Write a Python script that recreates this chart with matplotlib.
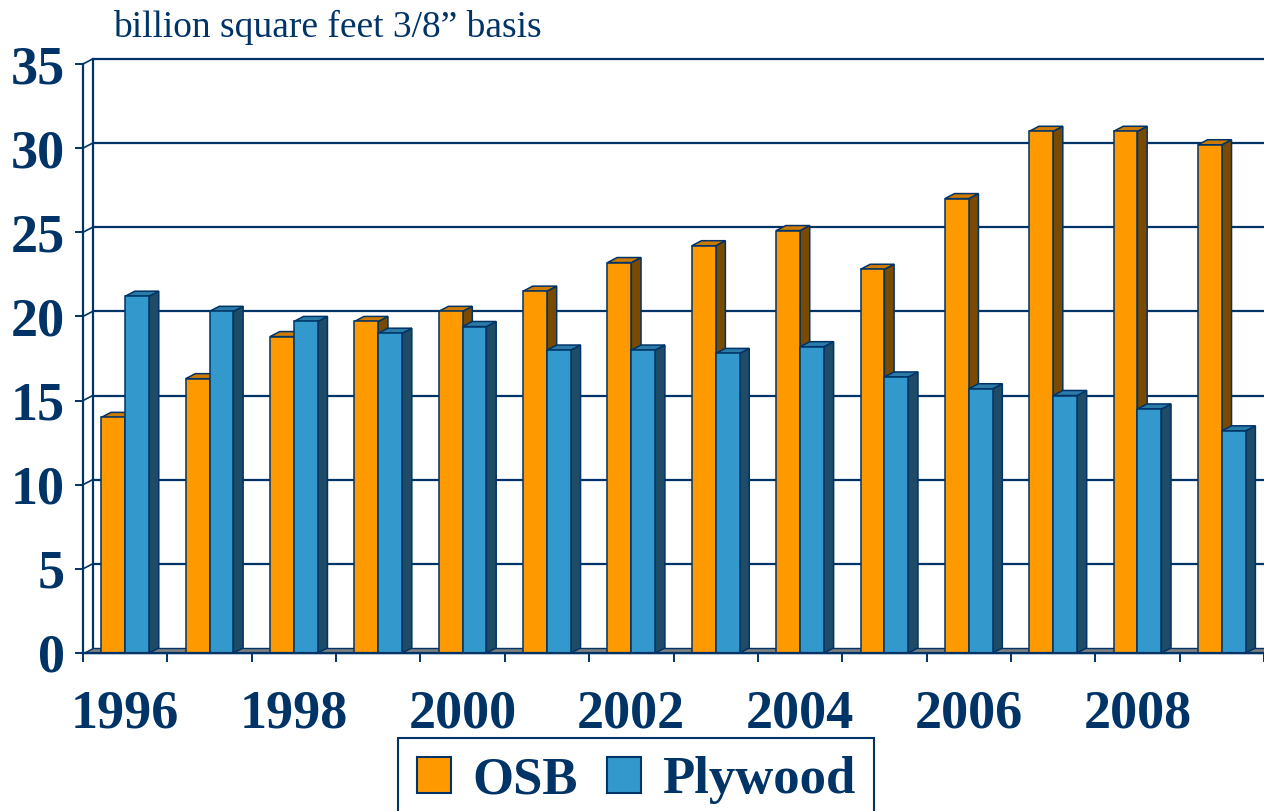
import numpy as np
import matplotlib
matplotlib.use("Agg")
import matplotlib.pyplot as plt
from matplotlib.patches import Polygon, Patch

# data
years = list(range(1996, 2010))
osb = [14.0, 16.3, 18.8, 19.7, 20.3, 21.5, 23.2, 24.2, 25.1, 22.8, 27.0, 31.0, 31.0, 30.2]
plywood = [21.2, 20.3, 19.7, 19.0, 19.4, 18.0, 18.0, 17.8, 18.2, 16.4, 15.7, 15.3, 14.5, 13.2]
year_labels = [str(y) if y % 2 == 0 else "" for y in years]
y_ticks = [0, 5, 10, 15, 20, 25, 30, 35]

navy = "#003366"
# name, values, front, top, side
series = [
    ("OSB", osb, "#FF9900", "#CC7A00", "#7A4A00"),
    ("Plywood", plywood, "#3399CC", "#2B7BA8", "#1E4B66"),
]

plt.rcParams["font.family"] = ["Liberation Serif", "DejaVu Serif"]

fig = plt.figure(figsize=(12.64, 8.11), dpi=100)
ax = fig.add_axes([83 / 1264, 158 / 811, 1181 / 1264, 589 / 811])
n = len(years)
x = np.arange(n)
ax.set_xlim(-0.5, n - 0.5)
ax.set_ylim(0, 35)

# fake 3d depth, in data units
dx, dy = 0.115, 0.3
bw = 0.283
x0, x_end = -0.5, n + 0.5

# back wall + left wall
for t in y_ticks[1:]:
    ax.plot([x0 + dx, x_end], [t + dy, t + dy], color=navy, lw=1.6, clip_on=False, zorder=1)
    ax.plot([x0, x0 + dx], [t, t + dy], color=navy, lw=1.2, clip_on=False, zorder=1)
ax.plot([x0 + dx, x0 + dx], [dy, 35 + dy], color=navy, lw=1.6, clip_on=False, zorder=1)

# floor
floor = Polygon([(x0, 0), (x_end, 0), (x_end, dy), (x0 + dx, dy)], closed=True,
                facecolor="#808080", edgecolor=navy, lw=1.0, clip_on=False, zorder=1.5)
ax.add_patch(floor)

# bars
for i, (name, vals, c_front, c_top, c_side) in enumerate(series):
    off = (i - 0.5) * bw
    z = 3 + 2 * i
    for xi, v in zip(x, vals):
        left = xi + off - bw / 2
        right = left + bw
        top = Polygon([(left, v), (right, v), (right + dx, v + dy), (left + dx, v + dy)],
                      closed=True, facecolor=c_top, edgecolor=navy, lw=1.1,
                      clip_on=False, zorder=z)
        side = Polygon([(right, 0), (right + dx, dy), (right + dx, v + dy), (right, v)],
                       closed=True, facecolor=c_side, edgecolor=navy, lw=1.1,
                       clip_on=False, zorder=z)
        ax.add_patch(side)
        ax.add_patch(top)
    ax.bar(x + off, vals, width=bw, color=c_front, edgecolor=navy, lw=1.1,
           zorder=z + 1, clip_on=False)

# axes styling
for s in ["top", "right"]:
    ax.spines[s].set_visible(False)
for s in ["left", "bottom"]:
    ax.spines[s].set_color(navy)
    ax.spines[s].set_linewidth(1.6)
    ax.spines[s].set_zorder(10)

ax.set_yticks(y_ticks)
ax.tick_params(axis="y", direction="out", length=6, width=1.4, color=navy, pad=7,
               labelsize=39, labelcolor=navy)
for lab in ax.get_yticklabels():
    lab.set_fontweight("bold")

ax.set_xticks(np.arange(-0.5, n, 1))
ax.set_xticklabels([])
ax.tick_params(axis="x", which="major", direction="out", length=6.5, width=1.4, color=navy)
ax.set_xticks(x, minor=True)
ax.set_xticklabels(year_labels, minor=True)
ax.tick_params(axis="x", which="minor", length=0, pad=26, labelsize=39, labelcolor=navy)
for lab in ax.get_xticklabels(minor=True):
    lab.set_fontweight("bold")

# title text
fig.text(113 / 1264, 1 - 37 / 811, "billion square feet 3/8\u201d basis",
         fontsize=27, color=navy, va="baseline", ha="left")

# legend
handles = [Patch(facecolor=s[2], edgecolor=navy, lw=1.5, label=s[0]) for s in series]
leg = fig.legend(handles=handles, loc="upper center", bbox_to_anchor=(636 / 1264, 73 / 811),
                 ncol=2, prop=dict(weight="bold", size=38), labelcolor=navy,
                 handlelength=0.65, handleheight=0.65, handletextpad=0.4,
                 columnspacing=0.55, frameon=True, fancybox=False, edgecolor=navy,
                 borderpad=0.35, borderaxespad=0)
leg.get_frame().set_linewidth(1.5)
leg.get_frame().set_alpha(1)

fig.savefig("out.png", dpi=100)
